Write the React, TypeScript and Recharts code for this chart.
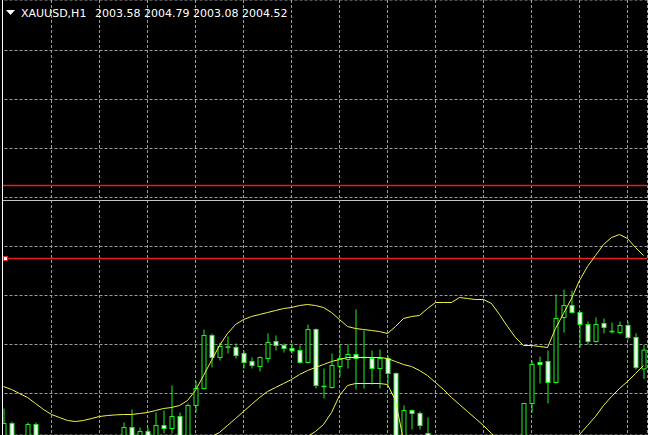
import React from 'react';
import {
  ComposedChart,
  Bar,
  Line,
  XAxis,
  YAxis,
  CartesianGrid,
  ReferenceLine,
  ReferenceDot,
} from 'recharts';

const times: string[] = Array.from({ length: 81 }, (_, i) => {
  const d = new Date(Date.UTC(2023, 11, 4, 1 + i));
  const p = (n: number) => String(n).padStart(2, '0');
  return `${d.getUTCFullYear()}.${p(d.getUTCMonth() + 1)}.${p(d.getUTCDate())} ${p(d.getUTCHours())}:00`;
});

const open = [
  1999.8, 2000.85, 1999.8, 1999.9, 2000.8, 1999.6, 1999.1, 1998.6, 1999.0, 1998.8,
  1998.3, 1998.7, 1999.1, 1999.0, 1999.5, 1999.9, 2000.65, 1999.9, 2000.45, 1999.9,
  2000.75, 2000.6, 2001.2, 1999.9, 2001.75, 2002.6, 2005.25, 2004.15, 2004.67, 2004.65,
  2004.35, 2003.95, 2003.7, 2004.1, 2004.95, 2004.75, 2004.6, 2004.5, 2003.9, 2005.55,
  2002.7, 2002.65, 2003.7, 2004.05, 2004.3, 2004.15, 2004.1, 2003.6, 2004.1, 2003.35,
  1999.9, 2001.5, 2001.35, 2000.35, 1999.6, 1999.0, 1998.5, 1998.8, 1998.3, 1998.6,
  1998.9, 1998.7, 1999.1, 1999.4, 1999.2, 1999.9, 2001.85, 2003.9, 2003.95, 2002.9,
  2006.15, 2006.75, 2006.4, 2005.8, 2004.95, 2005.85, 2005.45, 2005.4, 2005.75, 2005.15,
  2003.58,
];
const high = [
  2001.6, 2000.95, 2000.0, 2000.9, 2000.9, 1999.9, 1999.3, 1999.2, 1999.4, 1999.0,
  1998.9, 1999.3, 1999.5, 1999.7, 2000.1, 2000.9, 2001.55, 2000.65, 2000.65, 2001.4,
  2001.5, 2002.75, 2001.4, 2001.85, 2002.95, 2005.55, 2005.35, 2004.9, 2005.2, 2004.85,
  2004.5, 2004.15, 2004.2, 2005.35, 2005.25, 2004.85, 2004.85, 2004.75, 2005.8, 2005.6,
  2003.6, 2004.35, 2004.8, 2004.8, 2006.55, 2005.5, 2004.5, 2004.55, 2004.25, 2003.4,
  2001.75, 2001.55, 2001.45, 2001.15, 2000.0, 1999.5, 1999.0, 1999.2, 1998.9, 1999.1,
  1999.4, 1999.3, 1999.6, 1999.9, 2000.0, 2001.85, 2004.0, 2004.2, 2004.5, 2007.3,
  2007.55, 2007.5, 2006.45, 2005.95, 2006.15, 2006.1, 2005.9, 2005.95, 2005.95, 2005.35,
  2004.79,
];
const low = [
  1999.6, 1999.5, 1999.1, 1999.7, 1999.6, 1998.9, 1998.4, 1998.3, 1998.5, 1998.0,
  1998.1, 1998.5, 1998.8, 1998.9, 1999.3, 1999.7, 1999.6, 1999.7, 1999.8, 1999.8,
  2000.35, 2000.35, 1999.7, 1999.7, 2001.4, 2002.55, 2003.65, 2004.0, 2004.35, 2004.1,
  2003.6, 2003.6, 2003.45, 2003.9, 2004.5, 2004.4, 2004.35, 2003.85, 2003.85, 2002.6,
  2002.1, 2002.6, 2003.2, 2003.6, 2002.55, 2002.6, 2002.8, 2002.6, 2002.8, 1999.6,
  1999.7, 2000.55, 2000.55, 1999.3, 1998.8, 1998.2, 1997.9, 1998.1, 1997.8, 1998.2,
  1998.5, 1998.4, 1998.8, 1999.0, 1999.0, 1999.7, 2001.4, 2002.85, 2001.85, 2002.85,
  2005.4, 2006.35, 2004.65, 2004.8, 2004.9, 2005.35, 2005.35, 2005.3, 2005.05, 2003.55,
  2003.08,
];
const close = [
  2000.85, 1999.7, 1999.3, 2000.8, 1999.8, 1999.1, 1998.6, 1999.0, 1998.8, 1998.3,
  1998.7, 1999.1, 1999.0, 1999.5, 1999.8, 2000.65, 1999.8, 2000.45, 1999.95, 2000.75,
  2000.6, 2001.2, 1999.9, 2001.75, 2002.6, 2005.25, 2004.15, 2004.7, 2004.67, 2004.25,
  2003.9, 2003.75, 2004.15, 2004.9, 2004.75, 2004.6, 2004.48, 2003.9, 2005.55, 2002.75,
  2002.7, 2003.75, 2004.1, 2004.3, 2004.1, 2004.15, 2003.6, 2004.1, 2003.35, 1999.9,
  2001.5, 2001.35, 2000.75, 1999.6, 1999.0, 1998.5, 1998.8, 1998.3, 1998.6, 1998.9,
  1998.7, 1999.1, 1999.4, 1999.2, 1999.8, 2001.85, 2003.8, 2003.8, 2002.9, 2006.1,
  2006.75, 2006.4, 2005.8, 2004.95, 2005.8, 2005.65, 2005.45, 2005.75, 2005.15, 2003.65,
  2004.52,
];

const bbUpper = [
  2002.7, 2002.55, 2002.35, 2002.15, 2001.85, 2001.55, 2001.3, 2001.15, 2001.0, 2000.95,
  2001.0, 2001.1, 2001.2, 2001.25, 2001.28, 2001.3, 2001.3, 2001.35, 2001.4, 2001.5,
  2001.6, 2001.65, 2001.75, 2002.0, 2002.5, 2003.25, 2004.0, 2004.75, 2005.35, 2005.8,
  2006.05, 2006.2, 2006.3, 2006.4, 2006.5, 2006.6, 2006.65, 2006.75, 2006.8, 2006.75,
  2006.65, 2006.4, 2006.05, 2005.7, 2005.6, 2005.55, 2005.5, 2005.45, 2005.35, 2005.7,
  2006.1, 2006.2, 2006.25, 2006.6, 2006.9, 2006.9, 2006.9, 2007.15, 2007.1, 2007.05,
  2007.05, 2006.85, 2006.3, 2005.7, 2005.15, 2004.75, 2004.75, 2004.7, 2004.65, 2005.6,
  2006.35, 2007.1, 2008.0, 2008.7, 2009.25, 2009.8, 2010.15, 2010.3, 2010.1, 2009.65,
  2009.25,
];
const bbMiddle = [
  1998.5, 1998.4, 1998.3, 1998.2, 1998.1, 1998.0, 1997.9, 1997.8, 1997.75, 1997.7,
  1997.7, 1997.75, 1997.8, 1997.85, 1997.9, 1997.95, 1998.0, 1998.1, 1998.2, 1998.35,
  1998.5, 1998.7, 1999.0, 1999.35, 1999.7, 2000.0, 2000.2, 2000.4, 2000.75, 2001.1,
  2001.45, 2001.8, 2002.15, 2002.45, 2002.65, 2002.85, 2003.05, 2003.3, 2003.5, 2003.65,
  2003.8, 2003.95, 2004.05, 2004.15, 2004.15, 2004.15, 2004.15, 2004.15, 2004.1, 2003.95,
  2003.8, 2003.7, 2003.5, 2003.25, 2002.9, 2002.55, 2002.15, 2001.8, 2001.45, 2001.1,
  2000.75, 2000.35, 2000.0, 1999.7, 1999.45, 1999.25, 1999.15, 1999.2, 1999.3, 1999.5,
  1999.75, 2000.0, 2000.3, 2000.75, 2001.2, 2001.75, 2002.2, 2002.6, 2002.95, 2003.35,
  2003.75,
];
const bbLower = [
  1994.3, 1994.25, 1994.25, 1994.25, 1994.35, 1994.45, 1994.5, 1994.45, 1994.5, 1994.45,
  1994.4, 1994.4, 1994.4, 1994.45, 1994.53, 1994.6, 1994.7, 1994.85, 1995.0, 1995.2,
  1995.4, 1995.75, 1996.25, 1996.7, 1996.9, 1996.75, 1996.4, 1996.05, 1996.15, 1996.4,
  1996.85, 1997.4, 1998.0, 1998.5, 1998.8, 1999.1, 1999.45, 1999.85, 2000.2, 2000.45,
  2000.8, 2001.4, 2002.25, 2002.75, 2002.85, 2002.85, 2002.85, 2002.85, 2002.8, 2002.0,
  2000.0, 1999.25, 1998.5, 1998.0, 1997.5, 1997.0, 1996.5, 1996.25, 1996.0, 1995.75,
  1995.5, 1995.25, 1995.0, 1994.75, 1994.6, 1994.25, 1994.0, 1993.85, 1993.75, 1993.5,
  1993.25, 1993.0, 1992.6, 1992.75, 1993.0, 1993.7, 1994.25, 1994.9, 1995.75, 1997.0,
  1998.25,
];

const gridPrices = [2019.5, 2017.05, 2014.6, 2012.15, 2009.7, 2007.25, 2004.8, 2002.35];
const gridTimes = [6, 12, 18, 24, 30, 36, 42, 48, 54, 60, 66, 72, 78].map((i) => times[i]);
const RED = '#e81c1c';
const levels = [
  { y: 2012.0, color: '#c4c4c4', w: 1 },
  { y: 2012.75, color: RED, w: 1.5 },
  { y: 2009.1, color: RED, w: 1.5 },
];
const markerLevel = 2009.1;
const header = { symbol: 'XAUUSD,H1', o: '2003.58', h: '2004.79', l: '2003.08', c: '2004.52' };

const data = times.map((t, i) => ({
  t,
  range: [low[i], high[i]],
  open: open[i],
  high: high[i],
  low: low[i],
  close: close[i],
  up: bbUpper[i],
  mid: bbMiddle[i],
  lo: bbLower[i],
}));

const GREEN = '#20f020';
const YELLOW = '#f2f24a';

const Candle = (props: any) => {
  const { x, y, width, height, payload } = props;
  if (x == null || y == null || !payload) return null;
  const top0 = Math.min(y, y + height);
  const h = Math.abs(height);
  const { open: o, close: c, high: hi, low: lw } = payload;
  const span = hi - lw;
  const k = span > 0 ? h / span : 0;
  const yOf = (v: number) => top0 + (hi - v) * k;
  const cx = x + width / 2;
  const bt = yOf(Math.max(o, c));
  const bb = yOf(Math.min(o, c));
  const bull = c >= o;
  const bh = bb - bt;
  return (
    <g>
      <line x1={cx} x2={cx} y1={top0} y2={top0 + h} stroke={GREEN} strokeWidth={1} />
      {bh < 0.6 ? (
        <line x1={x} x2={x + width} y1={bt} y2={bt} stroke={GREEN} strokeWidth={1.5} />
      ) : (
        <rect
          x={x + 0.5}
          y={bt}
          width={width - 1}
          height={bh}
          fill={bull ? '#000' : '#ffffff'}
          stroke={GREEN}
          strokeWidth={1}
        />
      )}
    </g>
  );
};

const Marker = (props: any) => {
  const { cx, cy } = props;
  if (cx == null || cy == null) return null;
  return <rect x={cx} y={cy - 2} width={4} height={4} fill="#fff" stroke={RED} strokeWidth={1} />;
};

export default function App() {
  return (
    <div
      style={{
        position: 'absolute',
        left: 0,
        top: 0,
        width: 648,
        height: 435,
        background: '#000',
        overflow: 'hidden',
      }}
    >
      <ComposedChart
        width={648}
        height={435}
        data={data}
        margin={{ top: 0, right: 0.5, bottom: 0, left: -0.5 }}
        barCategoryGap={0}
      >
        <CartesianGrid stroke="#9c9c9c" strokeDasharray="3 2" />
        <XAxis dataKey="t" type="category" hide ticks={gridTimes} interval={0} />
        <YAxis
          hide
          type="number"
          domain={[2000.275, 2022.025]}
          ticks={gridPrices}
          allowDataOverflow
        />
        {levels.map((l, i) => (
          <ReferenceLine
            key={`lvl-${i}`}
            y={l.y}
            stroke={l.color}
            strokeWidth={l.w}
            ifOverflow="hidden"
          />
        ))}
        <Bar dataKey="range" barSize={5} shape={<Candle />} isAnimationActive={false} />
        <Line dataKey="up" type="linear" stroke={YELLOW} strokeWidth={1} dot={false} isAnimationActive={false} />
        <Line dataKey="mid" type="linear" stroke={YELLOW} strokeWidth={1} dot={false} isAnimationActive={false} />
        <Line dataKey="lo" type="linear" stroke={YELLOW} strokeWidth={1} dot={false} isAnimationActive={false} />
        <ReferenceDot x={times[0]} y={markerLevel} r={3} shape={<Marker />} ifOverflow="visible" />
      </ComposedChart>
      <div
        style={{
          position: 'absolute',
          left: 0,
          top: 0,
          width: 2,
          height: 435,
          background: '#000',
          borderRight: '1px solid #ffffff',
        }}
      />
      <svg width={648} height={22} style={{ position: 'absolute', left: 0, top: 0 }}>
        <polygon points="6,10 15,10 10.5,15" fill="#ffffff" />
        <text x={21} y={17} fill="#ffffff" fontFamily="DejaVu Sans" fontSize={11}>
          {header.symbol}
        </text>
        <text x={95} y={17} fill="#ffffff" fontFamily="DejaVu Sans" fontSize={11}>
          {`${header.o} ${header.h} ${header.l} ${header.c}`}
        </text>
      </svg>
    </div>
  );
}
